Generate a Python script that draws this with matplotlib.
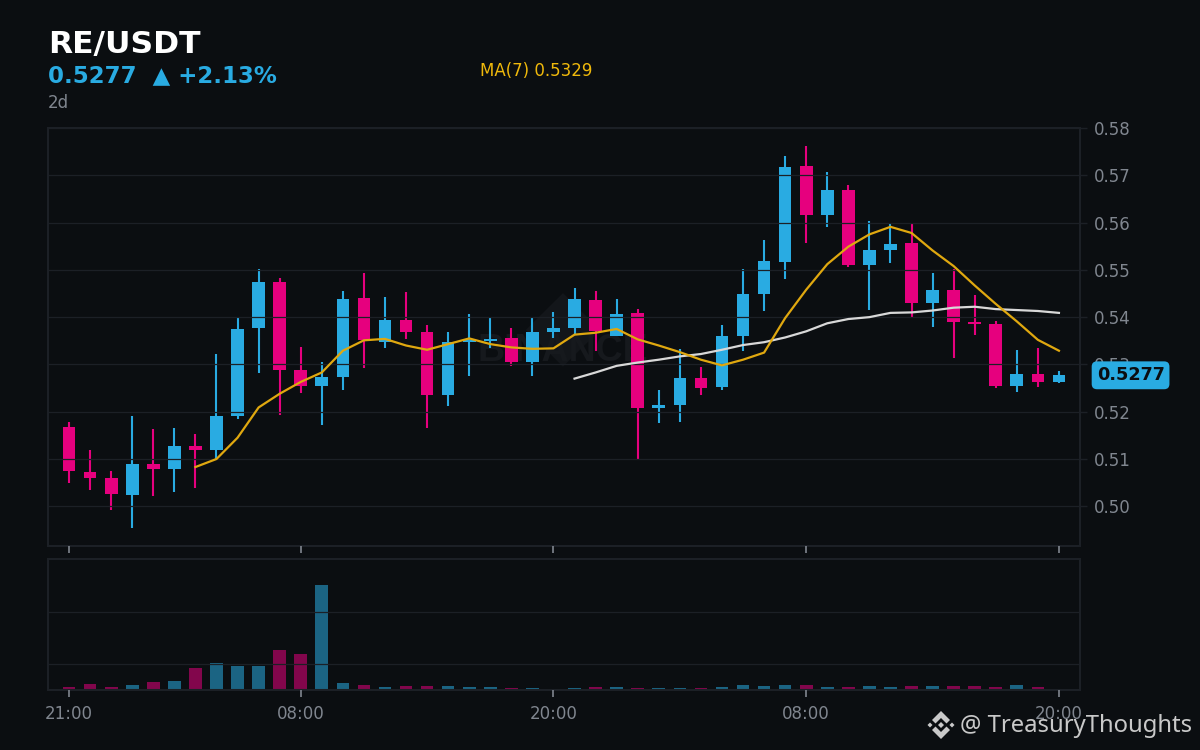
import matplotlib
matplotlib.use("Agg")
import matplotlib.pyplot as plt
from matplotlib.patches import Polygon

pair = "RE/USDT"
last_label = "0.5277"
change_label = "0.5277  ▲ +2.13%"
interval_label = "2d"
ma7_label = "MA(7) 0.5329"
credit = "@ TreasuryThoughts"
tick_idx = [0, 11, 23, 35, 47]
tick_txt = ["21:00", "08:00", "20:00", "08:00", "20:00"]
price_ticks = [0.50, 0.51, 0.52, 0.53, 0.54, 0.55, 0.56, 0.57, 0.58]

opens = [.5168,.5073,.5060,.5024,.5090,.5079,.5128,.5119,.5191,.5377,.5474,.5288,.5255,.5274,.5441,.5348,
         .5394,.5369,.5236,.5348,.5350,.5356,.5305,.5369,.5377,.5436,.5360,.5409,.5208,.5214,.5272,.5252,
         .5360,.5449,.5517,.5720,.5616,.5669,.5510,.5542,.5557,.5430,.5458,.5390,.5386,.5255,.5280,.5263]
closes = [.5075,.5060,.5026,.5090,.5079,.5128,.5119,.5191,.5375,.5474,.5288,.5255,.5274,.5438,.5352,.5394,
          .5369,.5236,.5348,.5352,.5354,.5305,.5369,.5377,.5438,.5371,.5407,.5208,.5214,.5272,.5250,.5360,
          .5449,.5519,.5718,.5616,.5669,.5510,.5542,.5555,.5430,.5458,.5390,.5386,.5255,.5280,.5263,.5278]
highs = [.5178,.5119,.5075,.5191,.5164,.5166,.5153,.5322,.5400,.5502,.5483,.5337,.5305,.5455,.5493,.5443,
         .5453,.5384,.5369,.5407,.5398,.5377,.5398,.5411,.5462,.5455,.5438,.5417,.5246,.5332,.5295,.5384,
         .5502,.5563,.5741,.5762,.5707,.5680,.5603,.5597,.5597,.5493,.5502,.5447,.5392,.5331,.5335,.5286]
lows = [.5050,.5035,.4993,.4955,.5021,.5031,.5038,.5100,.5185,.5282,.5194,.5240,.5172,.5246,.5293,.5335,
        .5354,.5166,.5212,.5276,.5335,.5297,.5276,.5356,.5362,.5329,.5360,.5100,.5176,.5178,.5236,.5246,
        .5329,.5413,.5481,.5557,.5591,.5506,.5415,.5515,.5400,.5379,.5314,.5362,.5250,.5242,.5252,.5261]
ma7_start = 6
ma7 = [.5083,.5100,.5145,.5209,.5238,.5263,.5283,.5329,.5351,.5354,.5340,.5331,.5343,.5355,.5343,.5336,
       .5333,.5334,.5363,.5367,.5375,.5353,.5340,.5326,.5310,.5298,.5310,.5325,.5398,.5458,.5512,.5549,
       .5575,.5591,.5578,.5541,.5508,.5467,.5428,.5391,.5352,.5329]
ma25_start = 24
ma25 = [.5270,.5283,.5297,.5304,.5310,.5317,.5322,.5331,.5341,.5347,.5357,.5370,.5387,.5396,.5400,.5409,
        .5410,.5414,.5420,.5422,.5417,.5415,.5413,.5409]
volume = [10,22,10,18,29,33,83,103,91,91,153,137,403,26,18,10,14,14,14,10,10,6,6,3,6,10,
          10,6,6,6,6,10,18,14,18,18,10,10,14,10,14,14,14,14,10,18,10,1]

BG = "#0b0e11"; BLUE = "#29abe2"; PINK = "#e6007e"; GRID = "#1c2026"
GREY = "#80868f"; GOLD = "#e0a80f"; MA2 = "#d8d8d8"

fig = plt.figure(figsize=(12, 7.5), dpi=100, facecolor=BG)
W, H = 1200.0, 750.0
def axbox(l, t, r, b):
    return [l / W, 1 - b / H, (r - l) / W, (b - t) / H]

ax = fig.add_axes(axbox(48, 128, 1080, 546), facecolor=BG)
vx = fig.add_axes(axbox(48, 559, 1080, 690), facecolor=BG)

idx = list(range(len(opens)))
cols = [BLUE if c >= o else PINK for o, c in zip(opens, closes)]
bottoms = [min(o, c) for o, c in zip(opens, closes)]
heights = [max(abs(c - o), 0.00012) for o, c in zip(opens, closes)]

ax.vlines(idx, lows, highs, colors=cols, linewidth=1.5, zorder=1)
ax.bar(idx, heights, bottom=bottoms, width=0.6, color=cols, linewidth=0, zorder=1.5)
ax.plot(range(ma25_start, ma25_start + len(ma25)), ma25, color=MA2, lw=1.6, zorder=3)
ax.plot(range(ma7_start, ma7_start + len(ma7)), ma7, color=GOLD, lw=1.6, zorder=3.1)

ax.set_xlim(-1, 48)
ax.set_ylim(0.4916, 0.58)
ax.yaxis.tick_right()
ax.set_yticks(price_ticks)
ax.set_yticklabels([f"{t:.2f}" for t in price_ticks])
ax.set_xticks(tick_idx)
ax.set_xticklabels([])
ax.set_axisbelow(False)
ax.grid(axis="y", color=GRID, lw=0.9)
ax.grid(axis="x", visible=False)
ax.tick_params(axis="y", labelcolor=GREY, labelsize=12, length=5, width=1, color=GRID, pad=5)
ax.tick_params(axis="x", color=GREY, length=5, width=1.2)

vx.bar(idx, volume, width=0.6, color=cols, alpha=0.55, linewidth=0, zorder=1)
vx.set_xlim(-1, 48)
vx.set_ylim(0, 504)
vx.set_yticks([100, 300])
vx.set_yticklabels([])
vx.set_xticks(tick_idx)
vx.set_xticklabels(tick_txt)
vx.set_axisbelow(False)
vx.grid(axis="y", color=GRID, lw=0.9)
vx.tick_params(axis="y", length=0)
vx.tick_params(axis="x", labelcolor=GREY, color=GREY, labelsize=12, length=5, width=1.2, pad=6)

for a in (ax, vx):
    for s in a.spines.values():
        s.set_color(GRID)
        s.set_linewidth(1.5)

# Faint exchange watermark behind the candles
ax.add_patch(Polygon([(0.499, 0.605), (0.535, 0.517), (0.499, 0.429), (0.463, 0.517)],
                     closed=True, transform=ax.transAxes, facecolor="#13161a", edgecolor="none", zorder=0.5))
ax.text(0.499, 0.4665, "BINANCE", transform=ax.transAxes, color="#16191d", fontsize=27,
        family="Liberation Sans", fontweight="bold", ha="center", va="center", zorder=0.6)

ax.text(1.0490, 0.5277, last_label, transform=ax.get_yaxis_transform(), color=BG, fontsize=12.7,
        fontweight="bold", ha="center", va="center", zorder=20, clip_on=False,
        bbox=dict(boxstyle="round,pad=0.28,rounding_size=0.3", fc=BLUE, ec="none"))

fig.text(48.5 / W, 1 - 44 / H, pair, color="white", fontsize=22.6, fontweight="bold", ha="left", va="center")
fig.text(48 / W, 1 - 76 / H, change_label, color=BLUE, fontsize=16.5, fontweight="bold", ha="left", va="center")
fig.text(48 / W, 1 - 103 / H, interval_label, color=GREY, fontsize=12, ha="left", va="center")
fig.text(480 / W, 1 - 71 / H, ma7_label, color="#f0b90b", fontsize=12, ha="left", va="center")
fig.text(960 / W, 1 - 726 / H, credit, color="#c9c9c9", fontsize=17.2, family="Noto Sans", ha="left", va="center", zorder=30)

# Small logo next to the credit line
def diamond(cx, cy, r):
    return [((cx + dx) / W, 1 - (cy + dy) / H) for dx, dy in [(0, -r), (r, 0), (0, r), (-r, 0)]]
logo = "#c9c9c9"
for cx, cy, r in [(941, 725, 3), (930, 725, 2.5), (952, 725, 2.5)]:
    fig.add_artist(Polygon(diamond(cx, cy, r), closed=True, transform=fig.transFigure, fc=logo, ec="none", zorder=30))
def chevron(cx, tipy, d):
    pts = [(cx, tipy), (cx + 9, tipy + d * 9), (cx + 5.5, tipy + d * 12.5), (cx, tipy + d * 7), (cx - 5.5, tipy + d * 12.5), (cx - 9, tipy + d * 9)]
    return [(x / W, 1 - y / H) for x, y in pts]
fig.add_artist(Polygon(chevron(941, 711, 1), closed=True, transform=fig.transFigure, fc=logo, ec="none", zorder=30))
fig.add_artist(Polygon(chevron(941, 739, -1), closed=True, transform=fig.transFigure, fc=logo, ec="none", zorder=30))

fig.savefig("out.png", dpi=100, facecolor=BG)
